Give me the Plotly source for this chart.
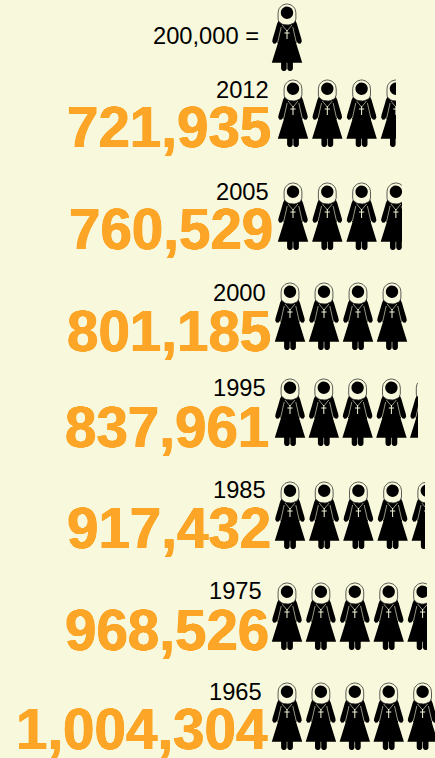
import numpy as np
import plotly.graph_objects as go

# ---- data ----
years = ["2012", "2005", "2000", "1995", "1985", "1975", "1965"]
nuns = [721935, 760529, 801185, 837961, 917432, 968526, 1004304]
unit_value = 200000
key_label = "200,000 ="

# ---- layout constants (pixels) ----
W, H = 435, 758
BG = "#F8F8DC"
ORANGE = "#FCA526"
ROW_CX = [293, 293, 290, 290, 290, 287, 287]
ROW_PITCH = [34.3, 34.3, 34, 33.8, 34.2, 33.9, 33.9]
ROW_TOP = [80, 183, 283, 379, 482, 583, 683]
ROW_CLIP = [396, 402, 408, 418, 425, 427, 435]
YEAR_RIGHT = [270, 270, 267, 267, 267, 263, 263]
YEAR_Y = [90, 192, 293, 388, 490, 591, 692]
NUM_RIGHT = [272, 274, 272, 270, 272, 270, 269]
NUM_Y = [128, 230, 331, 427, 528, 630, 729]
NUN_H = 67
PAD = 3


# ---- pictogram glyph, in px relative to (centre x, top y) ----
def arc(cx, cy, rx, ry, a0, a1, n=14):
    t = np.radians(np.linspace(a0, a1, n))
    return list(cx + rx * np.cos(t)), list(cy + ry * np.sin(t))


side = [(0, 14), (7.8, 15), (10, 20), (12, 27), (14.4, 35), (14.8, 37.5),
        (13.4, 39.8), (11.2, 39.6), (9.8, 37.5), (9.2, 39.5), (15.2, 58.8), (0, 58.8)]
BODY_X = [p[0] for p in side] + [-p[0] for p in side[::-1]]
BODY_Y = [p[1] for p in side] + [p[1] for p in side[::-1]]


def leg(cx):
    ax, ay = arc(cx, 64.4, 2.8, 2.6, 0, 180, 8)
    return [cx - 2.8, cx + 2.8] + ax + [cx - 2.8], [58, 58] + ay + [58]


def hood():
    ax1, ay1 = arc(0, 8.8, 8.9, 8.8, 180, 360, 18)
    ax2, ay2 = arc(0, 15, 8.9, 6, 0, 180, 14)
    return ax1 + ax2 + ax1[:1], ay1 + ay2 + ay1[:1]


HOOD = hood()
HEAD = arc(0, 8.7, 6.2, 6.2, 0, 360, 24)
LEGS = (leg(-3.1), leg(3.1))
THIN_SLITS = [([-5.8, -9.2], [23, 38]), ([5.8, 9.2], [23, 38]),
              ([-5, 0, 5], [21, 27, 21])]
CROSS = [([0, 0], [26, 35]), ([-2.6, 2.6], [29, 29])]


def join(parts, ox, fx):
    xs, ys = [], []
    for px, py in parts:
        xs += [fx(ox + v) for v in px] + [None]
        ys += list(py) + [None]
    return xs, ys


fig = go.Figure()
layout_axes = {}
annotations = []


def add_strip(idx, value_units, count, cx0, pitch, top, clip):
    left = cx0 - 16
    right = min(clip, W)
    fx = lambda px: (px - left) / (right - left) * value_units
    suffix = "" if idx == 1 else str(idx)
    black, hd, head, thin, cross = [[], []], [[], []], [[], []], [[], []], [[], []]
    for i in range(count):
        c = cx0 + i * pitch
        for store, parts in ((black, [(BODY_X, BODY_Y), *LEGS]), (hd, [HOOD]), (head, [HEAD]),
                             (thin, THIN_SLITS), (cross, CROSS)):
            x, y = join(parts, c, fx)
            store[0] += x
            store[1] += y
    ax = dict(xaxis="x" + suffix, yaxis="y" + suffix, hoverinfo="skip", showlegend=False)
    fig.add_trace(go.Scatter(x=black[0], y=black[1], mode="none", fill="toself",
                             fillcolor="#000000", **ax))
    fig.add_trace(go.Scatter(x=thin[0], y=thin[1], mode="lines",
                             line=dict(color=BG, width=0.6), **ax))
    fig.add_trace(go.Scatter(x=cross[0], y=cross[1], mode="lines",
                             line=dict(color=BG, width=1), **ax))
    fig.add_trace(go.Scatter(x=hd[0], y=hd[1], mode="lines", fill="toself",
                             fillcolor=BG, line=dict(color="#333333", width=0.8), **ax))
    fig.add_trace(go.Scatter(x=head[0], y=head[1], mode="none", fill="toself",
                             fillcolor="#000000", **ax))
    off = dict(visible=False, fixedrange=True)
    layout_axes["xaxis" + suffix] = dict(range=[0, value_units], domain=[left / W, right / W],
                                         anchor="y" + suffix, **off)
    layout_axes["yaxis" + suffix] = dict(range=[NUN_H + PAD, -PAD],
                                         domain=[1 - (top + NUN_H + PAD) / H, 1 - (top - PAD) / H],
                                         anchor="x" + suffix, **off)


def label(text, right, y, size, color, bold=False):
    font = dict(family="Liberation Sans", size=size, color=color)
    if bold:
        font["shadow"] = f"0.5px 0 0 {color}, -0.5px 0 0 {color}, 0 0.4px 0 {color}, 0 -0.4px 0 {color}"
    annotations.append(dict(text=f"<b>{text}</b>" if bold else text, x=right / W, y=1 - y / H,
                            xref="paper", yref="paper", xanchor="right", yanchor="middle",
                            showarrow=False, borderpad=0, font=font))


# key
add_strip(1, 1.0, 1, 287, 34, 4, 304)
label(key_label, 260, 36, 23.7, "#000000")

# rows
for r, (yr, v) in enumerate(zip(years, nuns)):
    units = v / unit_value
    add_strip(r + 2, units, int(np.ceil(units)), ROW_CX[r], ROW_PITCH[r], ROW_TOP[r], ROW_CLIP[r])
    label(yr, YEAR_RIGHT[r], YEAR_Y[r], 23.7, "#000000")
    label(f"{v:,}", NUM_RIGHT[r], NUM_Y[r], 56.5, ORANGE, bold=True)

fig.update_layout(width=W, height=H, margin=dict(l=0, r=0, t=0, b=0), autosize=False,
                  paper_bgcolor=BG, plot_bgcolor=BG, annotations=annotations, **layout_axes)
fig.write_html("out.html", config={"displayModeBar": False, "staticPlot": True},
               post_script="document.body.style.margin='0';document.body.style.overflow='hidden';document.body.style.background='" + BG + "';")
